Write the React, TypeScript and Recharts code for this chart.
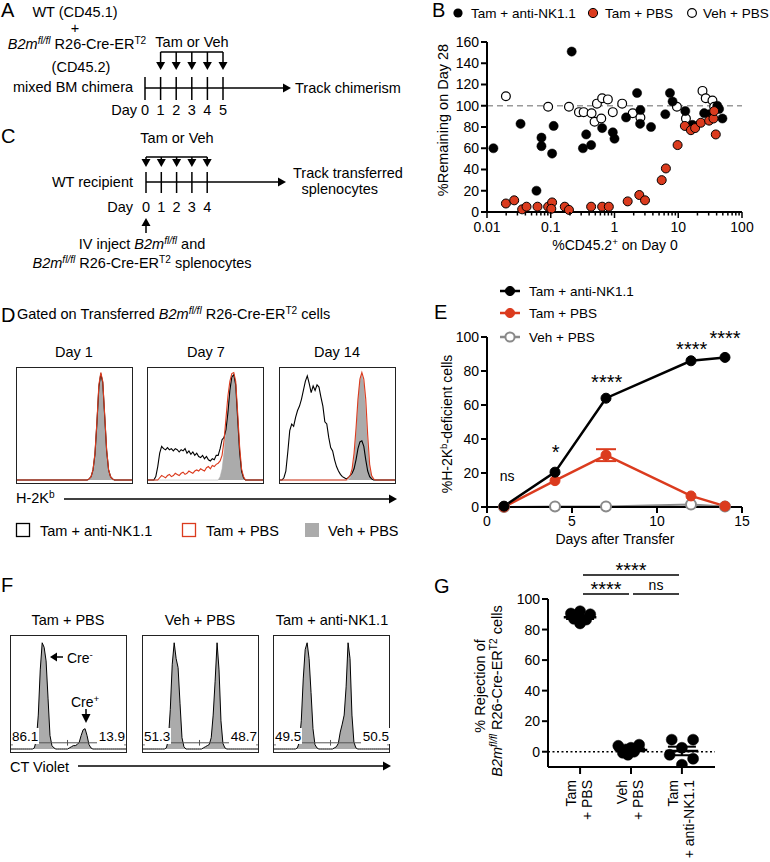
import React from 'react';
import {
  ScatterChart, Scatter, XAxis, YAxis, ReferenceLine, ComposedChart, Line, ErrorBar, Area,
} from 'recharts';

const FONT = '"Liberation Sans", Arial, Helvetica, sans-serif';
const RED = '#DB3B1E';
const GRAY = '#ABABAB';
const LGRAY = '#8A8A8A';

// ---------------- Panel B: [%CD45.2+ on Day 0, %Remaining on Day 28]
const bTamAntiNK: number[][] = [
  [0.0126, 60], [0.0336, 83], [0.0715, 70], [0.0715, 62], [0.0597, 20], [0.105, 55], [0.111, 81],
  [0.213, 151], [0.32, 60], [0.36, 73], [0.43, 63], [0.64, 79], [0.94, 75], [1.0, 69], [1.52, 89],
  [2.26, 112], [2.55, 96], [2.52, 83], [3.74, 80], [6.27, 92], [7.41, 112], [8.15, 104], [12.9, 95],
  [16.7, 82], [25.5, 93], [30.5, 92], [41, 100], [43.7, 97], [49.3, 88],
];
const bVehPBS: number[][] = [
  [0.0198, 109], [0.091, 99], [0.193, 99], [0.277, 94], [0.328, 94], [0.437, 93], [0.487, 85],
  [0.53, 102], [0.62, 88], [0.64, 107], [0.787, 106], [0.94, 94], [1.32, 102], [1.93, 93], [2.55, 89],
  [9.53, 99], [13.2, 88], [24, 114], [27, 107], [34.4, 105], [36.6, 99],
];
const bTamPBS: number[][] = [
  [0.0198, 8], [0.0267, 11], [0.0356, 2.5], [0.0417, 5], [0.062, 5], [0.091, 5], [0.105, 9], [0.102, 3],
  [0.166, 5], [0.193, 2], [0.43, 5], [0.64, 5], [0.815, 5], [1.61, 10], [2.45, 16], [3.01, 11], [5.5, 30],
  [6.4, 41], [9.77, 63], [12.7, 81], [15.8, 77], [18.4, 79], [22.6, 84], [30.5, 86], [35.7, 88],
  [36.6, 95], [38.8, 73],
];
const bMajorTicks = [0.01, 0.1, 1, 10, 100];
const bMinorTicks = [
  0.02, 0.03, 0.04, 0.05, 0.06, 0.07, 0.08, 0.09,
  0.2, 0.3, 0.4, 0.5, 0.6, 0.7, 0.8, 0.9,
  2, 3, 4, 5, 6, 7, 8, 9,
  20, 30, 40, 50, 60, 70, 80, 90,
];
const bYTicks = [0, 20, 40, 60, 80, 100, 120, 140, 160];

// ---------------- Panel E
const eDays = [1, 4, 7, 12, 14];
const eTamAntiNK = [0.5, 20.5, 64, 86, 88];
const eTamPBS = [0, 15.5, 30.5, 6.5, 0.5];
const eTamPBSErr = [0, 0, 3.5, 0, 0];
const eVehPBS = [0, 0.3, 0.3, 1.5, 0.3];
const eXTicks = [0, 5, 10, 15];
const eYTicks = [0, 20, 40, 60, 80, 100];
const eAnnotDay = [1.19, 4.04, 7.04, 12.04, 14.0];
const eAnnotY = [15.3, 28.2, 69.4, 89, 95.3];
const eAnnotText = ['ns', '*', '****', '****', '****'];

// ---------------- Panel G
const gTamPBS = [
  { x: 0.82, y: 90.5 }, { x: 1.0, y: 92 }, { x: 1.2, y: 90 }, { x: 0.88, y: 87 },
  { x: 1.0, y: 84 }, { x: 1.12, y: 86.5 }, { x: 0.94, y: 88.5 },
];
const gVehPBS = [
  { x: 1.75, y: 3.9 }, { x: 1.94, y: -2 }, { x: 2.16, y: 4.6 }, { x: 2.0, y: 2.6 },
  { x: 1.84, y: -0.7 }, { x: 2.06, y: 0 }, { x: 1.9, y: 1.5 },
];
const gTamAntiNK = [
  { x: 2.8, y: 7.9 }, { x: 3.22, y: 7.9 }, { x: 3.0, y: 2.6 }, { x: 2.76, y: -2 },
  { x: 3.22, y: -4.6 }, { x: 3.0, y: -8.5 },
];
const gMeans = [
  { x: 1, y: 88, sem: 1.1 }, { x: 2, y: 1.2, sem: 0.9 }, { x: 3, y: 0.5, sem: 2.8 },
];
const gYTicks = [0, 20, 40, 60, 80, 100];
const gTickLabels = [['Tam', '+ PBS'], ['Veh', '+ PBS'], ['Tam', '+ anti-NK1.1']];

// ---------------- Panel D histograms (H-2Kb), 60 bins, % of max
const d1Black = [
  0,0,0,0,0,0,0,0,0,0, 0,0,0,0,0,0,0,0,0,0, 0,0,0,0,0,0,0,0,0,0,
  0,0,0,0,0,0,0,1,3,9, 23,51,83,95,87,57,26,9,3,1, 0,0,0,0,0,0,0,0,0,0,
];
const d1Red = [
  0,0,0,0,0,0,0,0,0,0, 0,0,0,0,0,0,0,0,0,0, 0,0,0,0,0,0,0,0,0,0,
  0,0,0,0,0,0,0,1,3,9, 24,52,85,96,88,58,27,9,3,1, 0,0,0,0,0,0,0,0,0,0,
];
const d1Gray = [
  0,0,0,0,0,0,0,0,0,0, 0,0,0,0,0,0,0,0,0,0, 0,0,0,0,0,0,0,0,0,0,
  0,0,0,0,0,0,0,0,2,8, 22,50,82,94,85,55,25,8,2,0, 0,0,0,0,0,0,0,0,0,0,
];
const d7Black = [
  0,0,0,0,3,12,24,30,28,27, 29,27,28,26,28,27,25,27,26,28, 24,26,23,25,22,24,21,20,22,19,
  21,18,17,19,18,22,22,28,36,38, 45,60,80,92,94,85,55,25,8,2, 0,0,0,0,0,0,0,0,0,0,
];
const d7Red = [
  0,0,0,0,0,0,2,4,3,2, 4,5,3,4,6,5,4,6,7,5, 6,8,7,6,8,9,8,10,9,8,
  11,12,10,13,12,14,15,17,22,35, 55,75,88,95,96,88,60,30,10,3, 0,0,0,0,0,0,0,0,0,0,
];
const d7Gray = [
  0,0,0,0,0,0,0,0,0,0, 0,0,0,0,0,0,0,0,0,0, 0,0,0,0,0,0,0,0,0,0,
  0,0,0,0,0,0,0,3,10,25, 45,65,82,92,94,86,58,28,9,2, 0,0,0,0,0,0,0,0,0,0,
];
const d14Black = [
  0,0,2,8,25,44,50,48,56,62, 66,72,80,88,93,86,78,84,80,85, 83,74,66,52,50,38,29,26,18,12,
  8,5,3,2,1,2,4,6,10,18, 28,34,35,30,18,8,3,1,0,0, 0,0,0,0,0,0,0,0,0,0,
];
const d14Red = [
  0,0,0,0,0,0,0,0,0,0, 0,0,0,0,0,0,0,0,0,0, 0,0,0,0,0,0,0,0,0,0,
  0,0,0,0,0,2,4,10,24,46, 72,90,96,90,72,40,14,4,1,0, 0,0,0,0,0,0,0,0,0,0,
];
const d14Gray = [
  0,0,0,0,0,0,0,0,0,0, 0,0,0,0,0,0,0,0,0,0, 0,0,0,0,0,0,0,0,0,0,
  0,0,0,0,0,0,2,6,18,40, 68,88,94,86,60,30,10,3,0,0, 0,0,0,0,0,0,0,0,0,0,
];
const dTitles = ['Day 1', 'Day 7', 'Day 14'];

// ---------------- Panel F histograms (CT Violet)
const fTamPBS = [
  0,0,0,0,0,0,0,0,0,0, 0,0,1,8,30,70,94,90,78,45, 12,3,1,0,0,0,0,0,0,0,
  1,2,3,3,4,6,12,17,18,12, 4,1,0,0,0,0,0,0,0,0, 0,0,0,0,0,0,0,0,0,0,
];
const fVehPBS = [
  0,0,0,0,0,0,0,0,0,0, 0,0,1,8,35,75,94,80,72,40, 10,2,0,0,0,0,0,0,0,0,
  0,1,2,3,4,10,30,60,94,70, 25,5,1,0,0,0,0,0,0,0, 0,0,0,0,0,0,0,0,0,0,
];
const fTamAntiNK = [
  0,0,0,0,0,0,0,0,0,0, 0,0,1,6,25,62,88,94,80,50, 18,4,1,0,0,0,0,0,0,0,
  0,1,2,5,15,22,30,55,94,80, 30,6,1,0,0,0,0,0,0,0, 0,0,0,0,0,0,0,0,0,0,
];
const fTitles = ['Tam + PBS', 'Veh + PBS', 'Tam + anti-NK1.1'];
const fGateLeft = ['86.1', '51.3', '49.5'];
const fGateRight = ['13.9', '48.7', '50.5'];

// ---------------- helpers
const toXY = (arr: number[][]) => arr.map(([x, y]) => ({ x, y }));
const dotShape = (fill: string, stroke: string, r: number, sw: number) => (p: any) => (
  <circle cx={p.cx} cy={p.cy} r={r} fill={fill} stroke={stroke} strokeWidth={sw} />
);
const axisStyle = { stroke: '#000', strokeWidth: 2 };
const tickStyle = { fill: '#000', fontSize: 14, fontFamily: FONT };

const LogTick = (p: any) => {
  const v = p.payload.value;
  const major = bMajorTicks.includes(v);
  return (
    <g>
      <line x1={p.x} x2={p.x} y1={p.y} y2={p.y + (major ? 6 : 3.5)} stroke="#000" strokeWidth={1.5} />
      {major && (
        <text x={p.x} y={p.y + 20} textAnchor="middle" fontSize={14} fontFamily={FONT} fill="#000">
          {String(v)}
        </text>
      )}
    </g>
  );
};

const GTick = (p: any) => {
  const lines = gTickLabels[Math.round(p.payload.value) - 1] || [];
  const ty = p.y + 13;
  return (
    <g>
      <line x1={p.x} x2={p.x} y1={p.y} y2={p.y + 7} stroke="#000" strokeWidth={2} />
      {lines.map((t, i) => {
        const bx = p.x - 4 + i * 16;
        return (
          <text key={i} x={bx} y={ty} transform={`rotate(-90 ${bx} ${ty})`} textAnchor="end"
            fontSize={14} fontFamily={FONT} fill="#000">{t}</text>
        );
      })}
    </g>
  );
};

const EAnnot = (p: any) => {
  const txt = p.payload.label as string;
  const isStar = txt.includes('*');
  return (
    <text x={p.cx} y={p.cy} textAnchor="middle" fontSize={isStar ? 20 : 14} fontFamily={FONT} fill="#000">
      {txt}
    </text>
  );
};

function DHist({ left, top, black, red, gray }: { left: number; top: number; black: number[]; red: number[]; gray: number[] }) {
  const data = gray.map((g, i) => ({ bin: i, gray: g, black: black[i], red: red[i] }));
  return (
    <div style={{ position: 'absolute', left, top, width: 117, height: 117, border: '1px solid #222', boxSizing: 'border-box', background: '#fff' }}>
      <ComposedChart width={115} height={115} data={data} margin={{ top: 0, right: 0, bottom: 3, left: 0 }}>
        <XAxis dataKey="bin" type="number" domain={[0, 59]} hide />
        <YAxis type="number" domain={[0, 100]} hide />
        <Area dataKey="gray" type="linear" fill={GRAY} fillOpacity={1} stroke={GRAY} strokeWidth={0.5} isAnimationActive={false} />
        <Line dataKey="black" type="linear" stroke="#000" strokeWidth={1.1} dot={false} activeDot={false} isAnimationActive={false} />
        <Line dataKey="red" type="linear" stroke={RED} strokeWidth={1.1} dot={false} activeDot={false} isAnimationActive={false} />
      </ComposedChart>
    </div>
  );
}

function FHist({ left, top, values }: { left: number; top: number; values: number[] }) {
  const data = values.map((v, i) => ({ bin: i, v }));
  return (
    <div style={{ position: 'absolute', left, top, width: 117, height: 118, border: '1px solid #222', boxSizing: 'border-box', background: '#fff' }}>
      <ComposedChart width={115} height={116} data={data} margin={{ top: 0, right: 0, bottom: 3, left: 0 }}>
        <XAxis dataKey="bin" type="number" domain={[0, 59]} hide />
        <YAxis type="number" domain={[0, 100]} hide />
        <Area dataKey="v" type="linear" fill={GRAY} fillOpacity={1} stroke="#000" strokeWidth={1} isAnimationActive={false} />
        <ReferenceLine segment={[{ x: 0, y: 5.5 }, { x: 59, y: 5.5 }]} stroke="#555" strokeWidth={1} />
        <ReferenceLine segment={[{ x: 29, y: 3 }, { x: 29, y: 8 }]} stroke="#555" strokeWidth={1} />
        <ReferenceLine segment={[{ x: 0.5, y: 3 }, { x: 0.5, y: 8 }]} stroke="#555" strokeWidth={1} />
        <ReferenceLine segment={[{ x: 58.5, y: 3 }, { x: 58.5, y: 8 }]} stroke="#555" strokeWidth={1} />
      </ComposedChart>
    </div>
  );
}

// superscript/italic helpers for SVG text
const B2mRCre = ({ tail }: { tail?: string }) => (
  <>
    <tspan fontStyle="italic">B2m</tspan>
    <tspan fontStyle="italic" dy={-5} fontSize="70%">fl/fl</tspan>
    <tspan dy={5}> R26-Cre-ER</tspan>
    <tspan dy={-5} fontSize="70%">T2</tspan>
    {tail ? <tspan dy={5}>{tail}</tspan> : null}
  </>
);

const downHead = (x: number, y1: number, y2: number) => `${x - 4.5},${y1} ${x + 4.5},${y1} ${x},${y2}`;
const rightHead = (x: number, y: number) => `${x - 8},${y - 4.5} ${x},${y} ${x - 8},${y + 4.5}`;

// timeline schematic days
const aDays = [0, 1, 2, 3, 4, 5];
const cDays = [0, 1, 2, 3, 4];
const aX = (d: number) => 145 + d * 15.6;
const cX = (d: number) => 146 + d * 15.3;

function Overlay() {
  const eRows = [
    { y: 291, color: '#000', open: false, label: 'Tam + anti-NK1.1' },
    { y: 313, color: RED, open: false, label: 'Tam + PBS' },
    { y: 337, color: LGRAY, open: true, label: 'Veh + PBS' },
  ];
  return (
    <svg width={770} height={862} style={{ position: 'absolute', left: 0, top: 0, pointerEvents: 'none' }} fontFamily={FONT}>
      {/* Panel letters */}
      <text x={1} y={17} fontSize={20}>A</text>
      <text x={432} y={17} fontSize={20}>B</text>
      <text x={1} y={143} fontSize={20}>C</text>
      <text x={1} y={322} fontSize={20}>D</text>
      <text x={434} y={319} fontSize={20}>E</text>
      <text x={1} y={592} fontSize={20}>F</text>
      <text x={434} y={593} fontSize={20}>G</text>

      {/* Panel A schematic */}
      <g fontSize={14.5} fill="#000">
        <text x={75} y={17} textAnchor="middle">WT (CD45.1)</text>
        <text x={75} y={33} textAnchor="middle">+</text>
        <text x={77} y={49} textAnchor="middle"><B2mRCre /></text>
        <text x={81} y={72} textAnchor="middle">(CD45.2)</text>
        <text x={73} y={92} textAnchor="middle">mixed BM chimera</text>
        <text x={192} y={47} textAnchor="middle">Tam or Veh</text>
        <text x={295} y={93}>Track chimerism</text>
        <text x={137} y={115} textAnchor="end">Day</text>
        {aDays.map((d) => (
          <text key={d} x={aX(d)} y={115} textAnchor="middle">{d}</text>
        ))}
      </g>
      <g stroke="#000" strokeWidth={1.5}>
        <line x1={aX(0)} x2={284} y1={88} y2={88} />
        {aDays.map((d) => <line key={d} x1={aX(d)} x2={aX(d)} y1={77} y2={100} />)}
        <line x1={aX(1)} x2={aX(5)} y1={52} y2={52} />
        {aDays.slice(1).map((d) => <line key={'v' + d} x1={aX(d)} x2={aX(d)} y1={52} y2={63} />)}
      </g>
      <polygon points={rightHead(291, 88)} fill="#000" />
      {aDays.slice(1).map((d) => <polygon key={'h' + d} points={downHead(aX(d), 62, 70)} fill="#000" />)}

      {/* Panel C schematic */}
      <g fontSize={14.5} fill="#000">
        <text x={177} y={143} textAnchor="middle">Tam or Veh</text>
        <text x={133} y={187} textAnchor="end">WT recipient</text>
        <text x={293} y={178}>Track transferred</text>
        <text x={378} y={194} textAnchor="end">splenocytes</text>
        <text x={133} y={212} textAnchor="end">Day</text>
        {cDays.map((d) => (
          <text key={d} x={cX(d)} y={212} textAnchor="middle">{d}</text>
        ))}
        <text x={142} y={249} textAnchor="middle">
          <tspan>IV inject </tspan>
          <tspan fontStyle="italic">B2m</tspan>
          <tspan fontStyle="italic" dy={-5} fontSize="70%">fl/fl</tspan>
          <tspan dy={5}> and</tspan>
        </text>
        <text x={142} y={268} textAnchor="middle"><B2mRCre tail=" splenocytes" /></text>
      </g>
      <g stroke="#000" strokeWidth={1.5}>
        <line x1={cX(0)} x2={279} y1={182} y2={182} />
        {cDays.map((d) => <line key={d} x1={cX(d)} x2={cX(d)} y1={172} y2={193} />)}
        <line x1={cX(0)} x2={cX(4)} y1={157} y2={157} />
        {cDays.map((d) => <line key={'v' + d} x1={cX(d)} x2={cX(d)} y1={157} y2={160} />)}
        <line x1={cX(0)} x2={cX(0)} y1={224} y2={233} />
      </g>
      <polygon points={rightHead(286, 182)} fill="#000" />
      {cDays.map((d) => <polygon key={'h' + d} points={downHead(cX(d), 159, 167)} fill="#000" />)}
      <polygon points={`${cX(0) - 4.5},226 ${cX(0) + 4.5},226 ${cX(0)},218`} fill="#000" />

      {/* Panel B legend and labels */}
      <circle cx={458} cy={13} r={4.6} fill="#000" />
      <text x={471} y={18} fontSize={13.5}>Tam + anti-NK1.1</text>
      <circle cx={593} cy={13} r={4.6} fill={RED} stroke="#000" strokeWidth={1} />
      <text x={605} y={18} fontSize={13.5}>Tam + PBS</text>
      <circle cx={692} cy={13} r={4.4} fill="#fff" stroke="#000" strokeWidth={1.2} />
      <text x={703} y={18} fontSize={13.5}>Veh + PBS</text>
      <text x={448} y={120} fontSize={14.5} textAnchor="middle" transform="rotate(-90 448 120)">%Remaining on Day 28</text>
      <text x={615} y={250} fontSize={14} textAnchor="middle">
        <tspan>%CD45.2</tspan>
        <tspan dy={-5} fontSize="70%">+</tspan>
        <tspan dy={5}> on Day 0</tspan>
      </text>

      {/* Panel D titles and legend */}
      <text x={17} y={319} fontSize={14.5}>
        <tspan>Gated on Transferred </tspan>
        <B2mRCre tail=" cells" />
      </text>
      {dTitles.map((t, i) => (
        <text key={t} x={[74, 206, 337][i]} y={357} fontSize={14.5} textAnchor="middle">{t}</text>
      ))}
      <text x={16} y={503} fontSize={14.5}>
        <tspan>H-2K</tspan>
        <tspan dy={-5} fontSize="70%">b</tspan>
      </text>
      <line x1={64} x2={390} y1={499} y2={499} stroke="#000" strokeWidth={1.5} />
      <polygon points={rightHead(397, 499)} fill="#000" />
      <rect x={16.5} y={523.5} width={13} height={13} fill="#fff" stroke="#000" strokeWidth={1.3} />
      <text x={40} y={536} fontSize={14.5}>Tam + anti-NK1.1</text>
      <rect x={182.5} y={523.5} width={13} height={13} fill="#fff" stroke={RED} strokeWidth={1.3} />
      <text x={206} y={536} fontSize={14.5}>Tam + PBS</text>
      <rect x={305} y={523} width={14} height={14} fill={GRAY} />
      <text x={328} y={536} fontSize={14.5}>Veh + PBS</text>

      {/* Panel E legend and labels */}
      {eRows.map((r) => (
        <g key={r.label}>
          <line x1={500} x2={520} y1={r.y} y2={r.y} stroke={r.color} strokeWidth={2.5} />
          <circle cx={510} cy={r.y} r={4.6} fill={r.open ? '#fff' : r.color} stroke={r.color} strokeWidth={r.open ? 2 : 1} />
          <text x={529} y={r.y + 5} fontSize={13.5}>{r.label}</text>
        </g>
      ))}
      <text x={452} y={424} fontSize={14} textAnchor="middle" transform="rotate(-90 452 424)">
        <tspan>%H-2K</tspan>
        <tspan dy={-5} fontSize="70%">b</tspan>
        <tspan dy={5}>-deficient cells</tspan>
      </text>
      <text x={615} y={544} fontSize={14} textAnchor="middle">Days after Transfer</text>

      {/* Panel F titles, gates, labels */}
      {fTitles.map((t, i) => (
        <text key={t} x={[68, 200, 332][i]} y={625} fontSize={14.5} textAnchor="middle">{t}</text>
      ))}
      {fGateLeft.map((t, i) => {
        const bl = [10, 142, 273][i];
        return (
          <g key={'gl' + i}>
            <rect x={bl + 1} y={728} width={28} height={16} fill="#fff" />
            <text x={bl + 2} y={741} fontSize={13.5}>{t}</text>
          </g>
        );
      })}
      {fGateRight.map((t, i) => {
        const br = [127, 259, 391][i];
        return (
          <g key={'gr' + i}>
            <rect x={br - 30} y={728} width={29} height={16} fill="#fff" />
            <text x={br - 2} y={741} fontSize={13.5} textAnchor="end">{t}</text>
          </g>
        );
      })}
      <line x1={55} x2={63} y1={657} y2={657} stroke="#000" strokeWidth={1.5} />
      <polygon points="50,657 57,652.5 57,661.5" fill="#000" />
      <text x={67} y={663} fontSize={14}>
        <tspan>Cre</tspan>
        <tspan dy={-5} fontSize="70%">-</tspan>
      </text>
      <text x={71} y={707} fontSize={14}>
        <tspan>Cre</tspan>
        <tspan dy={-5} fontSize="70%">+</tspan>
      </text>
      <line x1={86} x2={86} y1={709} y2={716} stroke="#000" strokeWidth={1.5} />
      <polygon points={downHead(86, 714, 723)} fill="#000" />
      <text x={10} y={772} fontSize={14.5}>CT Violet</text>
      <line x1={78} x2={384} y1={766} y2={766} stroke="#000" strokeWidth={1.5} />
      <polygon points={rightHead(391, 766)} fill="#000" />

      {/* Panel G labels and significance */}
      <text x={485} y={686} fontSize={14.5} textAnchor="middle" transform="rotate(-90 485 686)">% Rejection of</text>
      <text x={502} y={691} fontSize={14.5} textAnchor="middle" transform="rotate(-90 502 691)"><B2mRCre tail=" cells" /></text>
      <line x1={583} x2={679} y1={575} y2={575} stroke="#000" strokeWidth={1.5} />
      <line x1={583} x2={629} y1={594} y2={594} stroke="#000" strokeWidth={1.5} />
      <line x1={633} x2={679} y1={594} y2={594} stroke="#000" strokeWidth={1.5} />
      <text x={631} y={577} fontSize={20} textAnchor="middle">****</text>
      <text x={606} y={596} fontSize={20} textAnchor="middle">****</text>
      <text x={656} y={590} fontSize={14} textAnchor="middle">ns</text>
    </svg>
  );
}

export default function App() {
  const eData = eDays.map((d, i) => ({
    day: d, anti: eTamAntiNK[i], pbs: eTamPBS[i], pbsErr: eTamPBSErr[i], veh: eVehPBS[i],
  }));
  const eAnnot = eAnnotDay.map((d, i) => ({ day: d, y: eAnnotY[i], label: eAnnotText[i] }));

  return (
    <div style={{ position: 'absolute', left: 0, top: 0, width: 770, height: 862, background: '#fff', fontFamily: FONT, overflow: 'hidden' }}>
      {/* Panel B */}
      <div style={{ position: 'absolute', left: 380, top: 0 }}>
        <ScatterChart width={390} height={270} margin={{ top: 42, right: 28, bottom: 0, left: 0 }}>
          <XAxis type="number" dataKey="x" scale="log" domain={[0.01, 100]} allowDataOverflow
            ticks={[...bMajorTicks, ...bMinorTicks]} interval={0} tick={(p: any) => <LogTick {...p} />}
            tickLine={false} tickSize={0} tickMargin={0} axisLine={axisStyle} height={58} />
          <YAxis type="number" dataKey="y" domain={[0, 160]} ticks={bYTicks} interval={0} width={107}
            axisLine={axisStyle} tickLine={{ stroke: '#000', strokeWidth: 2 }} tickSize={6} tickMargin={2} tick={tickStyle} />
          <ReferenceLine y={100} stroke="#9A9A9A" strokeWidth={1.5} strokeDasharray="6 4" />
          <Scatter data={toXY(bVehPBS)} shape={dotShape('#fff', '#000', 4.4, 1.2)} isAnimationActive={false} />
          <Scatter data={toXY(bTamAntiNK)} shape={dotShape('#000', '#000', 4.6, 0.5)} isAnimationActive={false} />
          <Scatter data={toXY(bTamPBS)} shape={dotShape(RED, '#000', 4.5, 1)} isAnimationActive={false} />
        </ScatterChart>
      </div>

      {/* Panel D */}
      <DHist left={16} top={367} black={d1Black} red={d1Red} gray={d1Gray} />
      <DHist left={147} top={367} black={d7Black} red={d7Red} gray={d7Gray} />
      <DHist left={279} top={367} black={d14Black} red={d14Red} gray={d14Gray} />

      {/* Panel E */}
      <div style={{ position: 'absolute', left: 410, top: 280 }}>
        <ComposedChart width={360} height={270} data={eData} margin={{ top: 57, right: 28, bottom: 0, left: 0 }}>
          <XAxis type="number" dataKey="day" domain={[0, 15]} ticks={eXTicks} interval={0} height={43}
            axisLine={axisStyle} tickLine={{ stroke: '#000', strokeWidth: 2 }} tickSize={6} tickMargin={3} tick={tickStyle} />
          <YAxis type="number" domain={[0, 100]} ticks={eYTicks} interval={0} width={77}
            axisLine={axisStyle} tickLine={{ stroke: '#000', strokeWidth: 2 }} tickSize={6} tickMargin={2} tick={tickStyle} />
          <Line dataKey="veh" type="linear" stroke={LGRAY} strokeWidth={2}
            dot={{ r: 5, fill: '#fff', stroke: LGRAY, strokeWidth: 2 }} activeDot={false} isAnimationActive={false} />
          <Line dataKey="pbs" type="linear" stroke={RED} strokeWidth={2.5}
            dot={{ r: 5, fill: RED, stroke: RED, strokeWidth: 1 }} activeDot={false} isAnimationActive={false}>
            <ErrorBar dataKey="pbsErr" width={10} stroke={RED} strokeWidth={2} direction="y" isAnimationActive={false} />
          </Line>
          <Line dataKey="anti" type="linear" stroke="#000" strokeWidth={2.5}
            dot={{ r: 5, fill: '#000', stroke: '#000', strokeWidth: 1 }} activeDot={false} isAnimationActive={false} />
          <Scatter data={eAnnot} dataKey="y" shape={EAnnot} isAnimationActive={false} />
        </ComposedChart>
      </div>

      {/* Panel F */}
      <FHist left={10} top={635} values={fTamPBS} />
      <FHist left={142} top={635} values={fVehPBS} />
      <FHist left={273} top={635} values={fTamAntiNK} />

      {/* Panel G */}
      <div style={{ position: 'absolute', left: 400, top: 560 }}>
        <ScatterChart width={370} height={300} margin={{ top: 39, right: 55, bottom: 0, left: 0 }}>
          <XAxis type="number" dataKey="x" domain={[0.37, 3.65]} allowDataOverflow ticks={[1, 2, 3]} interval={0}
            tick={(p: any) => <GTick {...p} />} tickLine={false} tickSize={0} tickMargin={0} axisLine={axisStyle} height={93} />
          <YAxis type="number" dataKey="y" domain={[-10, 100]} allowDataOverflow ticks={gYTicks} interval={0} width={148}
            axisLine={axisStyle} tickLine={{ stroke: '#000', strokeWidth: 2 }} tickSize={6} tickMargin={2} tick={tickStyle} />
          <ReferenceLine y={0} stroke="#000" strokeWidth={1.5} strokeDasharray="2 2.5" />
          <Scatter data={gTamPBS} shape={dotShape('#000', '#000', 5.5, 0.5)} isAnimationActive={false} />
          <Scatter data={gVehPBS} shape={dotShape('#000', '#000', 5.5, 0.5)} isAnimationActive={false} />
          <Scatter data={gTamAntiNK} shape={dotShape('#000', '#000', 5.5, 0.5)} isAnimationActive={false} />
          {gMeans.map((m) => (
            <ReferenceLine key={m.x} segment={[{ x: m.x - 0.32, y: m.y }, { x: m.x + 0.32, y: m.y }]} stroke="#000" strokeWidth={2.5} />
          ))}
          <Scatter data={gMeans} shape={() => <g />} isAnimationActive={false}>
            <ErrorBar dataKey="sem" width={14} stroke="#000" strokeWidth={2} direction="y" isAnimationActive={false} />
          </Scatter>
        </ScatterChart>
      </div>

      <Overlay />
    </div>
  );
}
